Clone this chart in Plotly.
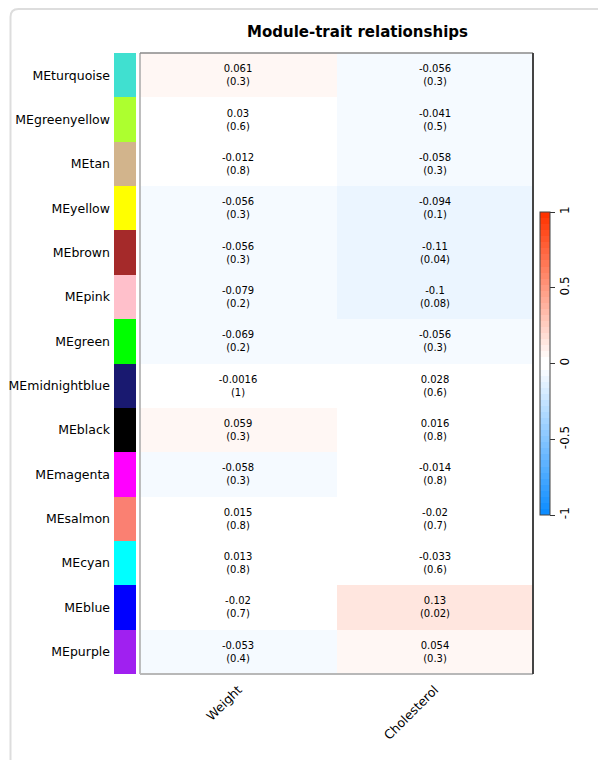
import plotly.graph_objects as go

# ---------------- data ----------------
modules = ["MEturquoise", "MEgreenyellow", "MEtan", "MEyellow", "MEbrown", "MEpink",
           "MEgreen", "MEmidnightblue", "MEblack", "MEmagenta", "MEsalmon", "MEcyan",
           "MEblue", "MEpurple"]
module_colors = ["#40E0D0", "#ADFF2F", "#D2B48C", "#FFFF00", "#A52A2A", "#FFC0CB",
                 "#00FF00", "#191970", "#000000", "#FF00FF", "#FA8072", "#00FFFF",
                 "#0000FF", "#A020F0"]
traits = ["Weight", "Cholesterol"]
weight_cor = [0.061, 0.03, -0.012, -0.056, -0.056, -0.079, -0.069, -0.0016, 0.059,
              -0.058, 0.015, 0.013, -0.02, -0.053]
weight_p = [0.3, 0.6, 0.8, 0.3, 0.3, 0.2, 0.2, 1, 0.3, 0.3, 0.8, 0.8, 0.7, 0.4]
chol_cor = [-0.056, -0.041, -0.058, -0.094, -0.11, -0.1, -0.056, 0.028, 0.016,
            -0.014, -0.02, -0.033, 0.13, 0.054]
chol_p = [0.3, 0.5, 0.3, 0.1, 0.04, 0.08, 0.3, 0.6, 0.8, 0.8, 0.7, 0.6, 0.02, 0.3]
cbar_ticks = [-1, -0.5, 0, 0.5, 1]
cbar_ticktext = ["-1", "-0.5", "0", "0.5", "1"]
title_text = "Module-trait relationships"

# ---------------- colour scale (WGCNA-style blueWhiteRed(50)) ----------------
def blue_white_red(n=50):
    blue_end = (0.05, 0.55, 1.0)
    red_end = (1.0, 0.2, 0.0)
    half = n // 2
    frac1 = [i / (half - 1) for i in range(half)]
    frac2 = frac1[::-1]
    cols = []
    for f in frac1:
        c = [b + (1 - b) * f for b in blue_end]
        cols.append("rgb(%d,%d,%d)" % tuple(round(v * 255) for v in c))
    for f in frac2:
        c = [r + (1 - r) * f for r in red_end]
        cols.append("rgb(%d,%d,%d)" % tuple(round(v * 255) for v in c))
    return cols

bwr = blue_white_red(50)
colorscale = []
for i, c in enumerate(bwr):
    colorscale.append([i / 50, c])
    colorscale.append([(i + 1) / 50, c])

z = [[w, c] for w, c in zip(weight_cor, chol_cor)]
text = [["%g<br>(%g)" % (w, wp), "%g<br>(%g)" % (c, cp)]
        for w, wp, c, cp in zip(weight_cor, weight_p, chol_cor, chol_p)]

# ---------------- layout geometry ----------------
# page offset of the figure inside the browser window (body margin)
OFF = 8
W, H = 606, 760
strip_left, strip_right = 114 - OFF, 136 - OFF
heat_left, heat_right = 140 - OFF, 533 - OFF
heat_top, heat_bottom = 53 - OFF, 674 - OFF
L, R, T, B = strip_left, W - heat_right, heat_top, H - heat_bottom
PW, PH = W - L - R, H - T - B

def px(xp):  # page x -> paper
    return (xp - OFF - L) / PW

def py(yp):  # page y -> paper
    return (H - B - (yp - OFF)) / PH

FONT = "DejaVu Sans"

fig = go.Figure()

fig.add_trace(go.Heatmap(
    z=z, x=traits, y=modules, text=text, texttemplate="%{text}",
    textfont=dict(family=FONT, size=10, color="black"),
    colorscale=colorscale, zmin=-1, zmax=1, xgap=0, ygap=0,
    hoverinfo="skip",
    colorbar=dict(
        x=px(540), xanchor="left", xpad=0, y=py(363.5), yanchor="middle", ypad=0,
        len=303, lenmode="pixels", thickness=10, thicknessmode="pixels",
        outlinewidth=1, outlinecolor="#444",
        tickvals=cbar_ticks, ticktext=cbar_ticktext, tickangle=-90,
        ticks="outside", ticklen=5, tickwidth=1, tickcolor="#333",
        tickfont=dict(family=FONT, size=12, color="black"),
    ),
    xaxis="x", yaxis="y",
))

fig.add_trace(go.Bar(
    x=[1] * len(modules), y=modules, orientation="h", width=1,
    marker=dict(color=module_colors, line=dict(width=0)),
    hoverinfo="skip", showlegend=False, xaxis="x2", yaxis="y",
))

fig.update_layout(
    width=W, height=H, margin=dict(l=L, r=R, t=T, b=B, pad=0, autoexpand=False),
    paper_bgcolor="white", plot_bgcolor="white", showlegend=False,
    font=dict(family=FONT, color="black"),
    xaxis=dict(domain=[(heat_left - L) / PW, 1], anchor="y", showgrid=False, zeroline=False,
               tickangle=-45, ticks="", tickfont=dict(size=12.5, color="black"),
               ticklabelstandoff=5, showline=False, fixedrange=True, automargin=False),
    xaxis2=dict(domain=[0, (strip_right - L) / PW], anchor="y", range=[0, 1], showgrid=False,
                zeroline=False, showticklabels=False, ticks="", fixedrange=True,
                automargin=False),
    yaxis=dict(anchor="x2", type="category", categoryarray=modules, categoryorder="array",
               autorange="reversed", showgrid=False, zeroline=False, ticks="",
               tickfont=dict(size=12.5, color="black"), ticklabelstandoff=3,
               fixedrange=True, automargin=False),
    bargap=0,
)

# heatmap box border
x0, x1 = (heat_left - L) / PW, 1.0
fig.add_shape(type="line", xref="paper", yref="paper", x0=x0, x1=x0, y0=0, y1=1,
              line=dict(color="#a8a8a8", width=1.5), layer="above")
fig.add_shape(type="line", xref="paper", yref="paper", x0=x0, x1=x1, y0=1, y1=1,
              line=dict(color="#8a8a8a", width=1.5), layer="above")
fig.add_shape(type="line", xref="paper", yref="paper", x0=x0, x1=x1, y0=0, y1=0,
              line=dict(color="#b8b8b8", width=2), layer="above")
fig.add_shape(type="line", xref="paper", yref="paper", x0=x1, x1=x1, y0=0, y1=1,
              line=dict(color="#444444", width=2), layer="above")

# outer page frame (rounded top-left corner, runs off right and bottom)
fx, fy, rad = 10.5, 9.0, 8
path = "M %f %f L %f %f Q %f %f %f %f L %f %f" % (
    px(fx), py(H + 30), px(fx), py(fy + rad), px(fx), py(fy), px(fx + rad), py(fy),
    px(W + 30), py(fy))
fig.add_shape(type="path", xref="paper", yref="paper", path=path,
              line=dict(color="#dddddd", width=2), layer="below")

fig.add_annotation(text="<b>%s</b>" % title_text, xref="paper", yref="paper",
                   x=px(357), y=py(32), xanchor="center", yanchor="middle",
                   showarrow=False, font=dict(family=FONT, size=15, color="black"))

fig.write_html("out.html")
